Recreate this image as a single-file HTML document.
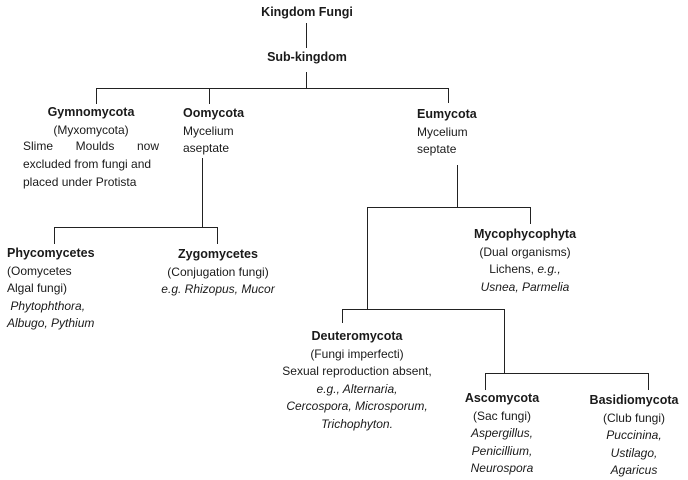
<!DOCTYPE html>
<html><head><meta charset="utf-8"><style>
body{margin:0;width:688px;height:479px;background:#fff;position:relative;overflow:hidden;font-family:"Liberation Sans",sans-serif;font-size:12px;color:#1a1a1a}
.t{position:absolute;line-height:17.5px;white-space:nowrap}
.c{transform:translateX(-50%);text-align:center}
b{font-weight:bold;font-size:12.5px}
i{font-style:italic}
.h{position:absolute;height:1.2px;background:#222}
.v{position:absolute;width:1.2px;background:#222}
</style></head><body>
<div class="v" style="left:306px;top:23px;height:25px"></div>
<div class="v" style="left:306px;top:72px;height:17px"></div>
<div class="h" style="left:96px;top:88px;width:353px"></div>
<div class="v" style="left:96px;top:88px;height:16px"></div>
<div class="v" style="left:209px;top:88px;height:16px"></div>
<div class="v" style="left:448px;top:88px;height:15px"></div>
<div class="v" style="left:202px;top:158px;height:70px"></div>
<div class="h" style="left:54px;top:227px;width:164px"></div>
<div class="v" style="left:54px;top:227px;height:17px"></div>
<div class="v" style="left:217px;top:227px;height:17px"></div>
<div class="v" style="left:457px;top:165px;height:43px"></div>
<div class="h" style="left:367px;top:207px;width:164px"></div>
<div class="v" style="left:367px;top:207px;height:103px"></div>
<div class="v" style="left:530px;top:207px;height:17px"></div>
<div class="h" style="left:342px;top:309px;width:163px"></div>
<div class="v" style="left:342px;top:309px;height:14px"></div>
<div class="v" style="left:504px;top:309px;height:65px"></div>
<div class="h" style="left:485px;top:373px;width:164px"></div>
<div class="v" style="left:485px;top:373px;height:17px"></div>
<div class="v" style="left:648px;top:373px;height:17px"></div>
<div class="t c" style="left:307px;top:4px"><b>Kingdom Fungi</b></div>
<div class="t c" style="left:307px;top:49px"><b>Sub-kingdom</b></div>
<div class="t c" style="left:91px;top:104px"><b>Gymnomycota</b><br>(Myxomycota)</div>
<div class="t" style="left:23px;top:138px;width:136px;white-space:normal;text-align:justify;text-align-last:justify">Slime Moulds now</div>
<div class="t" style="left:23px;top:156px">excluded from fungi and<br>placed under Protista</div>
<div class="t" style="left:183px;top:105px"><b>Oomycota</b><br>Mycelium<br>aseptate</div>
<div class="t" style="left:417px;top:106px"><b>Eumycota</b><br>Mycelium<br>septate</div>
<div class="t" style="left:7px;top:245px"><b>Phycomycetes</b><br>(Oomycetes<br>Algal fungi)<br>&nbsp;<i>Phytophthora,</i><br><i>Albugo, Pythium</i></div>
<div class="t c" style="left:218px;top:246px"><b>Zygomycetes</b><br>(Conjugation fungi)<br><i>e.g. Rhizopus, Mucor</i></div>
<div class="t c" style="left:525px;top:226px"><b>Mycophycophyta</b><br>(Dual organisms)<br>Lichens, <i>e.g.,</i><br><i>Usnea, Parmelia</i></div>
<div class="t c" style="left:357px;top:328px"><b>Deuteromycota</b><br>(Fungi imperfecti)<br>Sexual reproduction absent,<br><i>e.g., Alternaria,</i><br><i>Cercospora, Microsporum,</i><br><i>Trichophyton.</i></div>
<div class="t c" style="left:502px;top:390px"><b>Ascomycota</b><br>(Sac fungi)<br><i>Aspergillus,</i><br><i>Penicillium,</i><br><i>Neurospora</i></div>
<div class="t c" style="left:634px;top:392px"><b>Basidiomycota</b><br>(Club fungi)<br><i>Puccinina,</i><br><i>Ustilago,</i><br><i>Agaricus</i></div>
</body></html>
